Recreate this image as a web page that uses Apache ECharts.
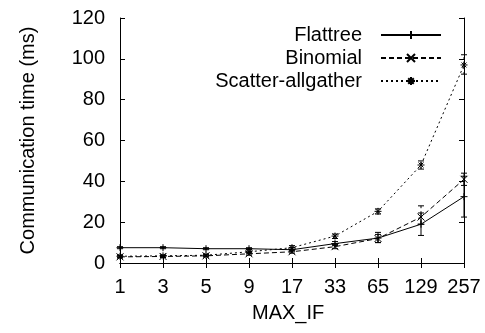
<!DOCTYPE html>
<html><head><meta charset="utf-8">
<script src="https://cdn.jsdelivr.net/npm/echarts@6/dist/echarts.min.js"></script>
<style>html,body{margin:0;padding:0;background:#fff}#c{width:485px;height:333px}</style>
</head><body><div id="c"></div>
<script>
var categories = ['1','3','5','9','17','33','65','129','257'];
var flattree = [7.5, 7.5, 7, 7, 6.5, 9.5, 12.2, 19, 32.5];
var flattreeLow = [7, 7, 6.5, 6.5, 5.5, 8.5, 10, 13.5, 22.5];
var flattreeHigh = [8, 8, 7.5, 7.5, 7.5, 10.5, 15, 24.5, 42.5];
var binomial = [3, 3.2, 3.5, 4.5, 5.5, 8, 12, 22.5, 41];
var binomialLow = [2.5, 2.7, 3, 3.8, 4.8, 7, 10, 19, 38];
var binomialHigh = [3.5, 3.7, 4, 5.2, 6.2, 9, 14, 28, 44];
var scatter = [3.3, 3.5, 3.8, 5.5, 7.5, 13.2, 25.3, 48, 97];
var scatterLow = [2.8, 3, 3.3, 4.5, 6.5, 12, 24, 46, 92.5];
var scatterHigh = [3.8, 4, 4.3, 6.5, 8.5, 14.2, 26.5, 50, 102];
var yTicks = [0, 20, 40, 60, 80, 100, 120];

var FONT = 'Liberation Sans';
var FS = 20;
var plusSym = 'path://M0,5L10,5M5,0L5,10';
var crossSym = 'path://M0,0L10,10M10,0L0,10';
var starSym = 'path://M0,5L10,5M5,0L5,10M1.5,1.5L8.5,8.5M8.5,1.5L1.5,8.5';

function errSeries(low, high, dash) {
  return {
    type: 'custom',
    silent: true,
    z: 3,
    data: categories.map(function (c, i) { return [i, low[i], high[i]]; }),
    renderItem: function (params, api) {
      var lo = api.coord([api.value(0), api.value(1)]);
      var hi = api.coord([api.value(0), api.value(2)]);
      var w = 3;
      var st = { stroke: '#000', lineWidth: 1, lineDash: dash };
      return {
        type: 'group',
        children: [
          { type: 'line', shape: { x1: lo[0], y1: lo[1], x2: hi[0], y2: hi[1] }, style: st },
          { type: 'line', shape: { x1: lo[0] - w, y1: lo[1], x2: lo[0] + w, y2: lo[1] }, style: { stroke: '#000', lineWidth: 1 } },
          { type: 'line', shape: { x1: hi[0] - w, y1: hi[1], x2: hi[0] + w, y2: hi[1] }, style: { stroke: '#000', lineWidth: 1 } }
        ]
      };
    }
  };
}

function lineSeries(name, data, sym, dashType) {
  return {
    name: name,
    type: 'line',
    data: data,
    symbol: sym,
    symbolSize: 7,
    showAllSymbol: true,
    z: 4,
    lineStyle: { color: '#000', width: 1, type: dashType },
    itemStyle: { color: 'rgba(0,0,0,0)', borderColor: '#000', borderWidth: 1 }
  };
}

var chart = echarts.init(document.getElementById('c'), null, { renderer: 'canvas' });
var axisLine = { show: true, lineStyle: { color: '#000', width: 1 } };
chart.setOption({
  animation: false,
  backgroundColor: '#fff',
  textStyle: { fontFamily: FONT },
  grid: { left: 120, right: 21, top: 18, bottom: 70, containLabel: false },
  legend: {
    orient: 'vertical',
    right: 38,
    top: 20,
    align: 'right',
    itemWidth: 60,
    itemHeight: 10,
    itemGap: 3,
    selectedMode: false,
    data: ['Flattree', 'Binomial', 'Scatter-allgather'],
    textStyle: { fontFamily: FONT, fontSize: FS, color: '#000', padding: [0, 14, 0, 0] }
  },
  xAxis: [{
    type: 'category',
    data: categories,
    boundaryGap: false,
    position: 'bottom',
    axisLine: axisLine,
    axisTick: { show: true, inside: true, length: 5, interval: 0, lineStyle: { color: '#000' } },
    axisLabel: { fontFamily: FONT, fontSize: FS, color: '#000', margin: 14, interval: 0, hideOverlap: false },
    splitLine: { show: false }
  }, {
    type: 'category',
    data: categories,
    boundaryGap: false,
    position: 'top',
    axisLine: axisLine,
    axisTick: { show: true, inside: true, length: 5, interval: 0, lineStyle: { color: '#000' } },
    axisLabel: { show: false, interval: 0 },
    splitLine: { show: false }
  }],
  yAxis: [{
    type: 'value',
    min: yTicks[0],
    max: yTicks[yTicks.length - 1],
    interval: 20,
    position: 'left',
    name: 'Communication time (ms)',
    nameLocation: 'middle',
    nameGap: 82,
    nameTextStyle: { fontFamily: FONT, fontSize: FS, color: '#000' },
    axisLine: axisLine,
    axisTick: { show: true, inside: true, length: 5, lineStyle: { color: '#000' } },
    axisLabel: { fontFamily: FONT, fontSize: FS, color: '#000', margin: 15 },
    splitLine: { show: false }
  }, {
    type: 'value',
    min: yTicks[0],
    max: yTicks[yTicks.length - 1],
    interval: 20,
    position: 'right',
    axisLine: axisLine,
    axisTick: { show: true, inside: true, length: 5, lineStyle: { color: '#000' } },
    axisLabel: { show: false },
    splitLine: { show: false }
  }],
  graphic: [{
    type: 'text',
    left: 252,
    top: 303,
    style: { text: 'MAX_IF', font: FS + 'px "Liberation Sans"', fill: '#000' }
  }],
  series: [
    lineSeries('Flattree', flattree, plusSym, 'solid'),
    lineSeries('Binomial', binomial, crossSym, [5, 3]),
    lineSeries('Scatter-allgather', scatter, starSym, [2, 3]),
    errSeries(flattreeLow, flattreeHigh, null),
    errSeries(binomialLow, binomialHigh, [5, 3]),
    errSeries(scatterLow, scatterHigh, [2, 3])
  ]
});
</script></body></html>
